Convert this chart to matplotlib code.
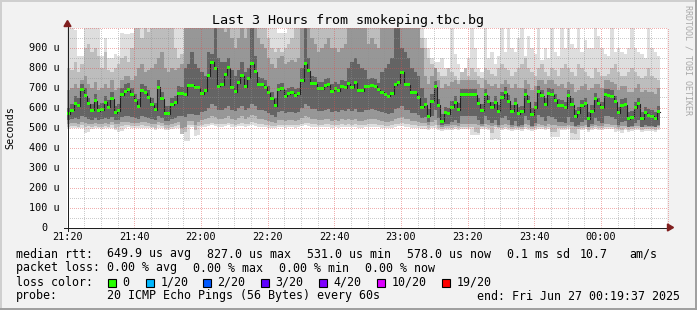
import numpy as np
import matplotlib
matplotlib.use("Agg")
import matplotlib.pyplot as plt
from matplotlib.patches import Rectangle, Polygon
from matplotlib.lines import Line2D

# ---------------- data (microseconds, one value per 1-minute step from 21:20) -------------
median = [570,587,620,610,690,660,618,587,635,585,
          590,627,602,645,575,585,665,682,690,665,
          635,607,685,673,652,615,588,702,645,568,
          570,615,623,670,670,665,710,712,700,700,
          670,685,760,827,797,707,715,765,798,700,
          680,723,758,703,747,820,778,713,713,702,
          675,645,610,688,693,657,668,673,662,668,
          735,818,785,720,720,693,693,710,715,682,
          695,685,705,698,718,698,725,685,685,703,
          707,712,707,690,677,665,657,670,715,723,
          777,715,715,673,673,648,602,615,557,632,
          703,612,531,573,568,602,627,590,663,663,
          663,663,663,620,585,663,628,598,627,582,
          648,673,632,582,618,570,578,663,628,565,
          598,678,660,615,670,665,637,612,610,598,
          660,615,553,573,610,620,545,582,645,620,
          598,663,662,657,628,573,612,615,543,552,
          598,620,543,573,562,557,545,578]

smoke_max = [1050,1050,990,860,860,1050,1050,1050,1050,1050,
             860,950,850,850,870,860,975,970,970,975,
             1050,1050,1050,1050,1050,1050,1050,1050,1050,1050,
             1050,1050,1050,1050,1050,1050,1050,1050,1050,1050,
             1050,1050,1050,1050,1050,1050,1050,1050,1050,1050,
             1050,1050,1050,1050,1050,1050,1050,1050,1050,1050,
             1050,1050,1050,975,975,975,1050,1050,1050,1050,
             1050,1050,1050,1050,1050,1050,1050,1050,1050,1050,
             1050,1050,1050,1050,1050,1050,1050,1050,1050,1050,
             1050,1050,1050,1050,1050,1050,1050,1050,1050,1050,
             1050,1050,1050,1050,1050,1050,1050,950,900,850,
             830,830,850,800,780,1050,870,820,780,760,
             850,1050,900,800,780,1050,850,880,820,860,
             1050,880,1050,900,880,950,1050,860,960,900,
             870,1050,840,900,850,1050,880,860,1050,900,
             1050,920,900,1050,880,940,900,900,1050,960,
             900,870,860,1050,880,900,880,870,900,1050,
             900,880,870,850,1050,900,880,860]

smoke_p90 = [800,790,830,780,820,900,920,880,900,860,
             800,880,790,780,800,820,850,860,830,900,
             1050,1000,950,1050,980,1050,1050,1000,1050,1050,
             1050,1050,900,850,870,1050,1050,1050,1050,1050,
             1050,1050,1050,1050,1050,1050,1050,1050,1050,1050,
             1050,1050,1050,1050,1050,1050,1050,1050,1050,1050,
             950,900,880,900,880,900,920,950,1050,1050,
             1050,1050,1050,1050,1050,1050,1050,1050,1050,1050,
             1050,1050,1050,1050,1050,1050,1050,1000,1050,1050,
             1050,1050,1050,1050,1050,1050,1050,1050,1050,1050,
             1050,1050,1050,1050,1050,1000,950,900,850,820,
             800,780,760,760,800,780,760,740,780,800,
             760,800,780,760,750,800,790,770,760,800,
             820,800,790,760,780,800,820,850,800,780,
             760,800,820,780,760,800,790,760,800,820,
             800,780,760,820,800,780,760,750,800,780,
             760,760,770,800,820,780,760,760,780,800,
             780,760,750,760,800,760,750,740]

smoke_p75 = [690,700,720,700,740,760,720,700,730,690,
             700,720,700,740,690,700,740,760,760,740,
             760,800,820,780,790,800,820,850,880,800,
             780,800,790,800,820,1050,1050,1050,1050,1050,
             1050,1050,1050,1050,1050,1050,1050,980,1050,950,
             900,950,1000,950,1050,1050,1050,950,920,900,
             850,820,800,850,860,820,830,840,830,850,
             1050,1050,1050,950,920,880,900,920,950,900,
             900,880,900,920,1050,1050,1050,1050,1050,1050,
             920,950,920,900,1050,1050,1050,1050,1050,1050,
             1050,1050,1050,1050,1050,1050,900,760,720,760,
             800,740,700,720,710,730,740,720,740,740,
             740,740,740,720,700,740,720,710,720,700,
             720,740,720,700,720,700,700,740,720,690,
             710,740,740,720,740,740,720,710,720,700,
             730,720,680,690,710,720,690,700,720,720,
             700,740,740,730,720,690,710,710,680,680,
             700,720,680,690,680,680,670,700]

smoke_p60 = [600,620,660,650,720,700,650,620,670,615,
             625,660,640,680,610,620,700,720,725,700,
             670,645,720,710,690,650,625,740,680,610,
             610,650,660,710,705,800,820,880,820,800,
             780,760,880,870,1050,850,830,830,850,790,
             760,790,830,780,800,1050,860,755,750,740,
             710,680,650,720,725,690,700,705,695,700,
             800,1050,850,760,755,730,730,745,750,720,
             730,720,740,735,800,830,850,820,800,790,
             745,750,745,725,780,800,820,850,1050,1050,
             900,880,850,800,780,760,700,650,595,670,
             735,645,570,605,600,635,660,625,695,695,
             695,695,695,650,620,695,660,630,660,615,
             680,705,665,615,650,605,610,695,660,600,
             630,710,690,650,700,695,670,645,640,630,
             690,650,590,605,640,650,580,615,675,650,
             630,695,695,690,660,605,645,650,578,585,
             630,650,578,605,595,590,580,610]

smoke_p40 = [540,545,550,545,560,555,545,540,550,540,
             545,550,545,555,540,540,555,560,560,555,
             550,545,560,555,550,545,540,560,550,535,
             535,545,550,560,560,555,570,570,565,565,
             580,585,600,620,610,590,590,600,610,590,
             585,600,610,590,600,620,610,590,590,585,
             575,565,555,580,585,575,580,580,575,580,
             600,620,610,595,595,585,585,590,595,580,
             585,580,590,585,595,585,595,580,580,590,
             590,595,590,585,580,575,570,575,595,600,
             610,590,590,575,575,565,550,555,530,560,
             590,550,515,520,520,530,540,525,560,560,
             560,560,560,540,520,560,540,525,540,515,
             550,560,540,515,535,510,515,560,540,510,
             525,565,555,535,560,555,545,530,530,525,
             555,530,510,515,530,540,505,520,550,535,
             525,560,560,555,545,515,530,535,505,510,
             525,540,505,515,510,510,505,515]

smoke_p25 = [520,522,525,520,528,525,520,518,522,520,
             520,525,520,528,518,520,528,530,530,525,
             525,522,530,528,525,520,518,530,525,515,
             515,520,525,530,500,505,535,535,515,530,
             540,545,550,560,555,545,545,550,560,545,
             540,550,560,545,555,565,560,545,545,540,
             535,530,525,540,540,535,540,540,535,540,
             550,560,555,545,545,540,540,545,545,535,
             540,535,545,540,545,540,545,535,535,540,
             545,545,545,540,535,530,530,535,545,550,
             555,545,545,535,535,530,525,525,515,530,
             540,515,505,508,508,512,515,510,520,520,
             518,520,518,512,508,518,512,508,512,505,
             512,520,512,505,510,505,505,518,512,505,
             508,520,515,510,518,515,512,508,508,508,
             515,510,503,505,510,512,502,506,515,510,
             508,518,518,515,512,505,510,510,502,503,
             508,510,502,505,505,503,502,506]

smoke_p10 = [505,508,510,505,512,505,508,505,510,505,
             505,510,505,512,500,505,510,512,515,510,
             510,508,512,510,510,505,500,512,510,500,
             500,505,510,512,470,480,515,515,490,510,
             515,518,520,525,520,518,518,520,525,518,
             515,520,525,518,520,528,525,518,518,515,
             512,510,508,515,515,512,515,515,512,515,
             520,525,522,518,518,515,515,518,518,512,
             515,512,518,515,518,515,518,512,512,515,
             518,518,518,515,512,510,510,512,518,520,
             522,518,518,512,512,510,508,508,500,510,
             512,500,495,498,498,500,502,500,505,505,
             505,505,480,475,505,505,500,475,502,498,
             500,505,500,495,500,498,495,505,500,495,
             498,505,502,500,505,480,480,498,498,498,
             502,475,470,495,500,502,490,496,502,500,
             498,505,505,502,500,495,490,500,490,492,
             498,500,490,495,495,492,490,496]

smoke_min = [495,498,500,496,500,475,478,495,500,496,
             495,500,496,500,490,480,482,500,502,500,
             500,498,500,500,500,496,490,500,500,488,
             490,495,500,500,500,432,435,505,460,462,
             505,505,510,512,508,505,505,508,512,505,
             505,508,510,505,508,512,510,505,505,503,
             500,498,496,503,503,500,503,503,500,503,
             508,512,510,505,505,503,503,505,505,500,
             503,500,505,503,505,503,505,500,500,503,
             505,505,505,503,500,498,498,500,505,508,
             510,505,505,500,500,498,495,495,490,498,
             500,490,485,488,488,490,492,490,495,495,
             495,465,465,465,495,495,490,440,442,440,
             490,495,490,485,490,488,485,495,490,485,
             488,495,492,490,495,455,455,455,488,488,
             492,438,438,438,490,492,480,486,492,490,
             488,495,495,492,480,485,475,490,480,482,
             488,490,480,485,485,482,480,486]

x_tick_minutes = [0, 20, 40, 60, 80, 100, 120, 140, 160]
x_tick_labels = ["21:20", "21:40", "22:00", "22:20", "22:40", "23:00", "23:20", "23:40", "00:00"]
y_tick_values = [0, 100, 200, 300, 400, 500, 600, 700, 800, 900]
y_tick_labels = ["0", "100 u", "200 u", "300 u", "400 u", "500 u", "600 u", "700 u", "800 u", "900 u"]

title = "Last 3 Hours from smokeping.tbc.bg"
legend_rtt = [("median rtt:", 16), ("649.9 us avg", 107), ("827.0 us max", 207),
              ("531.0 us min", 307), ("578.0 us now", 407), ("0.1 ms sd", 507),
              ("10.7", 580), ("am/s", 629)]
legend_loss = [("packet loss:", 16), ("0.00 % avg", 107), ("0.00 % max", 193),
               ("0.00 % min", 279), ("0.00 % now", 365)]
loss_labels = ["0", "1/20", "2/20", "3/20", "4/20", "10/20", "19/20"]
loss_colors = ["#26ff00", "#00b8ff", "#0059ff", "#5e00ff", "#7e00ff", "#dd00ff", "#ff0000"]
loss_box_x = [108, 146, 203, 261, 319, 377, 442]
probe_text = "20 ICMP Echo Pings (56 Bytes) every 60s"
end_text = "end: Fri Jun 27 00:19:37 2025"

# ---------------- figure ----------------
W, H = 697, 310
MONO = "DejaVu Sans Mono"
X0, X1, Y0, Y1 = 67, 667, 227.5, 27.5      # plot box in pixels
fig = plt.figure(figsize=(W / 100, H / 100), dpi=100, facecolor="#f2f2f2")


def fx(px):
    return px / W


def fy(py):
    return 1 - py / H


ax = fig.add_axes([fx(X0), fy(Y0), (X1 - X0) / W, (Y0 - Y1) / H])
ax.set_xlim(0, 180)
ax.set_ylim(0, 1000)
ax.set_facecolor("white")
for s in ax.spines.values():
    s.set_visible(False)
ax.set_xticks([])
ax.set_yticks([])

n = len(median)
xe = np.arange(n + 1)


def ext(a):
    a = np.asarray(a, dtype=float)
    return np.append(a, a[-1])


bands = [(smoke_min, smoke_max, "#dedede"),
         (smoke_p10, smoke_p90, "#bdbdbd"),
         (smoke_p25, smoke_p75, "#979797"),
         (smoke_p40, smoke_p60, "#646464")]
for lo, hi, c in bands:
    ax.fill_between(xe, ext(lo), ext(hi), step="post", color=c, lw=0, zorder=1)

# median (dark step line + loss coloured bar)
med = ext(median)
ax.step(xe, med, where="post", color="#202020", lw=0.8, zorder=4)
ax.fill_between(xe, med - 7.5, med + 7.5, step="post", color=loss_colors[0], lw=0, zorder=5)


def px_x(m):
    return np.floor(X0 + m / 180 * (X1 - X0)) + 0.5


def px_y(v):
    return Y0 - v / 1000 * (Y0 - Y1)


# dotted grid over the smoke (pixel-centred, 1px on / 1px off)
def gline(xs, ys, color, alpha):
    fig.add_artist(Line2D([fx(p) for p in xs], [fy(p) for p in ys], color=color, alpha=alpha,
                          lw=0.72, ls=(0.5, (1, 1)), zorder=3))


for m in range(5, 181, 5):
    if m % 20:
        gline([px_x(m)] * 2, [Y0 - 0.5, Y1], "#8f8f8f", 0.45)
for v in range(50, 1001, 50):
    if v % 100:
        gline([X0 + 1, X1], [px_y(v)] * 2, "#8f8f8f", 0.45)
for m in range(20, 181, 20):
    gline([px_x(m)] * 2, [Y0 - 0.5, Y1], "#de4f4f", 0.45)
for v in range(100, 1001, 100):
    gline([X0 + 1, X1], [px_y(v)] * 2, "#de4f4f", 0.45)

# axes lines & arrows (pixel coordinates)
fig.add_artist(Line2D([fx(67.5), fx(67.5)], [fy(230.5), fy(24)], color="#1f1f1f", lw=0.72,
                      zorder=6))
fig.add_artist(Line2D([fx(64), fx(669)], [fy(227.5), fy(227.5)], color="#1f1f1f", lw=0.72,
                      zorder=6))
fig.add_artist(Polygon([[fx(64), fy(26.5)], [fx(71), fy(26.5)], [fx(67.5), fy(20.5)]],
                       closed=True, color="#801f1f", transform=fig.transFigure, zorder=6))
fig.add_artist(Polygon([[fx(667.5), fy(224)], [fx(667.5), fy(231)], [fx(673.5), fy(227.5)]],
                       closed=True, color="#801f1f", transform=fig.transFigure, zorder=6))

# tick labels
for m, lab in zip(x_tick_minutes, x_tick_labels):
    xp = X0 + m / 180 * (X1 - X0)
    fig.text(fx(xp + 0.5), fy(240), lab, ha="center", va="baseline", fontsize=7.3, family=MONO)
for v, lab in zip(y_tick_values, y_tick_labels):
    yp = px_y(v)
    if v == 0:
        fig.text(fx(44.5), fy(yp + 3.5), lab, ha="center", va="baseline", fontsize=7.3, family=MONO)
    else:
        fig.text(fx(60), fy(yp + 3.5), lab, ha="right", va="baseline", fontsize=7.3, family=MONO)

fig.text(fx(10.5), fy(127.5), "Seconds", rotation=90, ha="center", va="center",
         fontsize=7.3, family=MONO)
fig.text(0.5, fy(24), title, ha="center", va="baseline", fontsize=9.6, family=MONO)
fig.text(fx(688), fy(60), "RRDTOOL / TOBI OETIKER", rotation=270, ha="center", va="center",
         fontsize=6.0, family=MONO, color="#a8a8a8")

# legend
for txt, xp in legend_rtt:
    fig.text(fx(xp), fy(257.5), txt, ha="left", va="baseline", fontsize=8.4, family=MONO)
for txt, xp in legend_loss:
    fig.text(fx(xp), fy(271.5), txt, ha="left", va="baseline", fontsize=8.4, family=MONO)
fig.text(fx(16), fy(285.5), "loss color:", ha="left", va="baseline", fontsize=8.4, family=MONO)
for lab, col, bx in zip(loss_labels, loss_colors, loss_box_x):
    fig.add_artist(Rectangle((fx(bx), fy(287)), 8 / W, 8.5 / H, facecolor=col,
                             edgecolor="black", lw=0.8, transform=fig.transFigure))
    fig.text(fx(bx + 14.5), fy(285.5), lab, ha="left", va="baseline", fontsize=8.4, family=MONO)
fig.text(fx(16), fy(299.5), "probe:", ha="left", va="baseline", fontsize=8.4, family=MONO)
fig.text(fx(107), fy(299.5), probe_text, ha="left", va="baseline", fontsize=8.4, family=MONO)
fig.text(fx(477), fy(299.5), end_text, ha="left", va="baseline", fontsize=8.4, family=MONO)

# frame shading
fig.add_artist(Line2D([0, 1], [fy(0.5), fy(0.5)], color="#cfcfcf", lw=1.4))
fig.add_artist(Line2D([fx(0.5), fx(0.5)], [0, 1], color="#cfcfcf", lw=1.4))
fig.add_artist(Line2D([0, 1], [fy(309), fy(309)], color="#9e9e9e", lw=1.4))
fig.add_artist(Line2D([fx(696), fx(696)], [0, 1], color="#9e9e9e", lw=1.4))

fig.savefig("out.png", dpi=100, facecolor=fig.get_facecolor())
